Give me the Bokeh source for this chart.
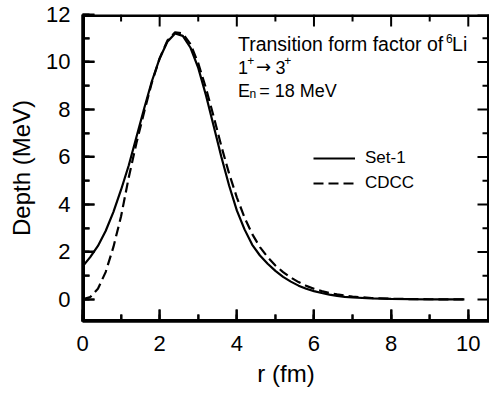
from bokeh.plotting import figure
from bokeh.models import SingleIntervalTicker, Legend, LegendItem, Range1d, Label
from bokeh.embed import file_html
from bokeh.resources import INLINE

# ---- data ----
r_set1 = [0.0, 0.2, 0.4, 0.6, 0.8, 1.0, 1.2, 1.4, 1.6, 1.8, 2.0, 2.2, 2.4, 2.6, 2.8,
          3.0, 3.2, 3.4, 3.6, 3.8, 4.0, 4.2, 4.4, 4.6, 4.8, 5.0, 5.2, 5.4, 5.6, 5.8,
          6.0, 6.2, 6.4, 6.6, 6.8, 7.0, 7.5, 8.0, 8.5, 9.0, 9.5, 9.9]
depth_set1 = [1.38, 1.78, 2.25, 2.88, 3.68, 4.62, 5.65, 6.85, 8.05, 9.2, 10.15, 10.85,
              11.2, 11.1, 10.6, 9.75, 8.6, 7.3, 6.0, 4.8, 3.75, 2.95, 2.3, 1.85, 1.5,
              1.2, 0.95, 0.75, 0.58, 0.45, 0.35, 0.27, 0.2, 0.15, 0.11, 0.08, 0.045,
              0.025, 0.012, 0.006, 0.003, 0.0]

r_cdcc = [0.0, 0.2, 0.4, 0.6, 0.8, 1.0, 1.2, 1.4, 1.6, 1.8, 2.0, 2.2, 2.4, 2.6, 2.8,
          3.0, 3.2, 3.4, 3.6, 3.8, 4.0, 4.2, 4.4, 4.6, 4.8, 5.0, 5.2, 5.4, 5.6, 5.8,
          6.0, 6.2, 6.4, 6.6, 6.8, 7.0, 7.5, 8.0, 8.5, 9.0, 9.5, 9.9]
depth_cdcc = [0.0, 0.1, 0.45, 1.15, 2.2, 3.5, 5.15, 6.6, 7.9, 9.15, 10.15, 10.9,
              11.25, 11.2, 10.75, 9.95, 8.9, 7.7, 6.45, 5.3, 4.3, 3.45, 2.75, 2.2, 1.78,
              1.43, 1.15, 0.92, 0.73, 0.57, 0.45, 0.35, 0.27, 0.21, 0.16, 0.12, 0.06,
              0.03, 0.015, 0.007, 0.003, 0.0]

x_major_ticks = [0, 2, 4, 6, 8, 10]
x_minor_ticks = [1, 3, 5, 7, 9]
y_major_ticks = [0, 2, 4, 6, 8, 10, 12]
y_minor_ticks = [1, 3, 5, 7, 9, 11]
x_label = "r (fm)"
y_label = "Depth (MeV)"
legend_labels = ["Set-1", "CDCC"]

FONT = "Liberation Sans"

# layout constants
W, H = 489, 394
BL, BT, BB = 82, 14, 73
X0, X1 = 0, 10.55
Y0, Y1 = -0.93, 12
PX_X = (W - BL) / (X1 - X0)
PX_Y = (H - BT - BB) / (Y1 - Y0)
MAJ, MIN = 12, 7

p = figure(width=W, height=H, output_backend="svg", toolbar_location=None,
           x_range=Range1d(X0, X1), y_range=Range1d(Y0, Y1),
           min_border_left=BL, min_border_top=BT, min_border_right=0,
           min_border_bottom=BB)
p.xgrid.visible = False
p.ygrid.visible = False
p.outline_line_color = None

xb = p.below[0]
yl = p.left[0]
xb.axis_label = x_label
yl.axis_label = y_label
xb.ticker = SingleIntervalTicker(interval=2, num_minor_ticks=2)
yl.ticker = SingleIntervalTicker(interval=2, num_minor_ticks=2)
for ax in [xb, yl]:
    ax.axis_line_width = 2.5
    ax.axis_line_color = "black"
    ax.major_tick_in = MAJ
    ax.major_tick_out = 0
    ax.minor_tick_in = MIN
    ax.minor_tick_out = 0
    ax.major_tick_line_width = 2
    ax.minor_tick_line_width = 2
    ax.major_label_text_font = FONT
    ax.major_label_text_font_size = "22px"
    ax.major_label_text_color = "black"
    ax.axis_label_text_font = FONT
    ax.axis_label_text_font_size = "24px"
    ax.axis_label_text_font_style = "normal"
    ax.axis_label_text_color = "black"
xb.major_label_standoff = 14
xb.axis_label_standoff = 6
yl.major_label_standoff = 12
yl.axis_label_standoff = 8

# frame box (drawn as line glyphs)
p.multi_line(xs=[[X0, X0], [X1, X1], [X0, X1], [X0, X1]],
             ys=[[Y0, Y1], [Y0, Y1], [Y0, Y0], [Y1, Y1]],
             line_color="black", line_width=5)

# inward ticks on all four sides
dx_maj, dx_min = MAJ / PX_Y, MIN / PX_Y   # vertical length (data y units)
dy_maj, dy_min = MAJ / PX_X, MIN / PX_X   # horizontal length (data x units)
for ticks, ln in [(x_major_ticks, dx_maj), (x_minor_ticks, dx_min)]:
    p.segment(x0=ticks, x1=ticks, y0=[Y0] * len(ticks), y1=[Y0 + ln] * len(ticks),
              line_color="black", line_width=2)
    p.segment(x0=ticks, x1=ticks, y0=[Y1] * len(ticks), y1=[Y1 - ln] * len(ticks),
              line_color="black", line_width=2)
for ticks, ln in [(y_major_ticks, dy_maj), (y_minor_ticks, dy_min)]:
    p.segment(x0=[X0] * len(ticks), x1=[X0 + ln] * len(ticks), y0=ticks, y1=ticks,
              line_color="black", line_width=2)
    p.segment(x0=[X1] * len(ticks), x1=[X1 - ln] * len(ticks), y0=ticks, y1=ticks,
              line_color="black", line_width=2)

l1 = p.line(r_set1, depth_set1, line_color="black", line_width=2.2)
l2 = p.line(r_cdcc, depth_cdcc, line_color="black", line_width=2.2, line_dash="10 5")

legend = Legend(items=[LegendItem(label=legend_labels[0], renderers=[l1]),
                       LegendItem(label=legend_labels[1], renderers=[l2])],
                location=(231, 127), orientation="vertical",
                glyph_width=42, glyph_height=22, label_height=22, label_standoff=10,
                spacing=3, padding=0, margin=0,
                border_line_color=None, background_fill_alpha=0,
                label_text_font=FONT, label_text_font_size="17px",
                label_text_color="black")
p.add_layout(legend)

# annotation pieces: (text, x, y, font, font size)
annotation = [
    ("Transition form factor of", 4.03, 10.77, FONT, "19.5px"),
    ("6", 9.42, 10.99, FONT, "12px"),
    ("Li", 9.58, 10.77, FONT, "19.5px"),
    ("1", 4.03, 9.76, FONT, "18px"),
    ("+", 4.27, 10.05, FONT, "12px"),
    ("\u2192", 4.50, 9.80, "DejaVu Sans", "18px"),
    ("3", 5.0, 9.76, FONT, "18px"),
    ("+", 5.23, 10.05, FONT, "12px"),
    ("E", 4.03, 8.77, FONT, "18px"),
    ("n", 4.33, 8.65, FONT, "12px"),
    ("= 18 MeV", 4.58, 8.77, FONT, "18px"),
]
for txt, xx, yy, fnt, fs in annotation:
    p.add_layout(Label(x=xx, y=yy, text=txt, text_font=fnt,
                       text_font_size=fs, text_color="black",
                       text_baseline="alphabetic", text_align="left"))

open("out.html", "w").write(file_html(p, INLINE))
